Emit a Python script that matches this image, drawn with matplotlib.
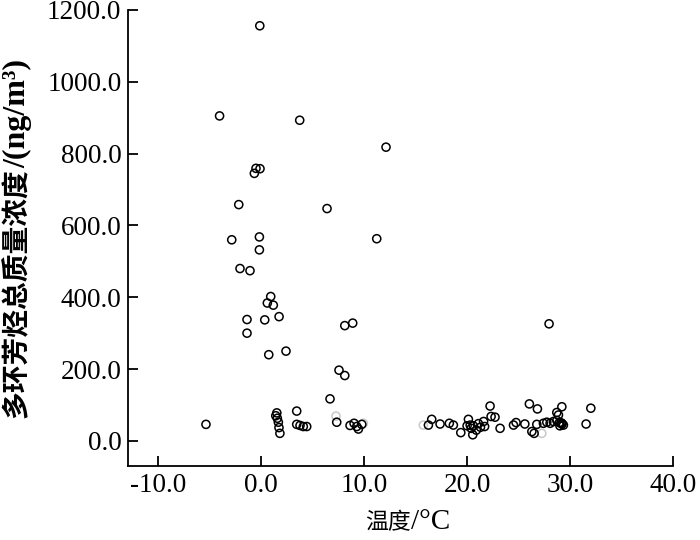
import matplotlib
matplotlib.use("Agg")
import matplotlib.pyplot as plt

# Temperature (°C) and total PAH concentration (ng/m3)
temp = [
    -0.1, -4.0, 3.77, 12.14, -0.47, -0.08, -0.63,
    -2.14, 6.42, -2.82, -0.14, -0.14, 11.24, -2.02, -1.05,
    0.96, 0.63, 1.21, -1.34, 0.38, 1.77, -1.34, 8.14, 8.91,
    0.77, 2.44, 7.58, 8.14, 27.95,
    -5.32, 1.55, 1.45, 1.6, 1.7, 1.76, 1.85,
    3.48, 3.48, 3.8, 4.12, 4.45, 6.71, 7.36,
    8.65, 9.04, 9.3, 9.46, 9.79,
    16.25, 16.57, 17.38, 18.28, 18.67, 19.39, 20.13,
    20.0, 20.3, 20.6, 20.55, 20.9, 21.1, 21.6, 21.7, 20.4, 21.3,
    22.23, 22.33, 22.71, 23.2, 24.5, 24.75,
    25.6, 26.04, 26.82, 26.28, 26.5, 26.76,
    27.4, 27.73, 28.05, 28.37, 28.7, 28.95, 29.19, 29.34,
    28.7, 28.86, 29.19, 29.0, 29.2, 29.1,
    31.54, 32.0,
]
conc = [
    1156, 905, 893, 818, 759, 758, 745,
    658, 647, 560, 568, 532, 563, 480, 474,
    402, 384, 378, 338, 337, 346, 300, 321, 328,
    240, 250, 197, 182, 326,
    46, 78, 70, 63, 52, 37, 21,
    83, 46, 43, 40, 40, 117, 52,
    43, 49, 40, 33, 46,
    44, 60, 47, 49, 44, 23, 60,
    42, 44, 42, 17, 30, 48, 54, 40, 35, 38,
    97, 68, 66, 35, 44, 51,
    47, 103, 89, 26, 21, 46,
    49, 52, 49, 54, 57, 51, 49, 44,
    79, 72, 95, 42, 47, 50,
    47, 91,
]
# faint (grey) points
temp_faint = [7.29, 9.94, 15.76, 27.25]
conc_faint = [69, 49, 44, 21]

xticks = [-10, 0, 10, 20, 30, 40]
yticks = [0, 200, 400, 600, 800, 1000, 1200]

xlabel_cn, xlabel_unit = '温度', '/°C'
ylabel_cn, ylabel_unit = '多环芳烃总质量浓度', '/(ng/m³)'

serif = ['Liberation Serif', 'DejaVu Serif']
cjk = ['Noto Sans CJK SC', 'DejaVu Sans']
plt.rcParams['font.family'] = serif

W, H = 700, 540
fig = plt.figure(figsize=(7, 5.4), dpi=100)
ax = fig.add_axes([0.1833, 0.137, 0.9619 - 0.1833, 0.9815 - 0.137])

ax.scatter(temp_faint, conc_faint, s=34, facecolors='none',
           edgecolors='#c8c8c8', linewidths=1.1, zorder=2)
ax.scatter(temp, conc, s=34, facecolors='none', edgecolors='black',
           linewidths=1.1, zorder=3)

ax.set_xlim(-12.85, 40)
ax.set_ylim(-70, 1200)
ax.set_xticks(xticks)
ax.set_xticklabels([f"{v:.1f}" for v in xticks])
ax.set_yticks(yticks)
ax.set_yticklabels([f"{v:.1f}" for v in yticks])

for s in ['top', 'right']:
    ax.spines[s].set_visible(False)
for s in ['left', 'bottom']:
    ax.spines[s].set_linewidth(1.3)

ax.tick_params(direction='in', length=7, width=1.3, labelsize=19.5, pad=5)

# x label: Chinese part + unit part, on a shared baseline
renderer = fig.canvas.get_renderer()
t1 = fig.text(365 / W, 1 - 529 / H, xlabel_cn, family=cjk, fontsize=16.5,
              ha='left', va='baseline')
bb = t1.get_window_extent(renderer)
fig.text(bb.x1 / W, 1 - 529 / H, xlabel_unit, family=serif, fontsize=21,
         ha='left', va='baseline')

# y label: rotated, Chinese part + unit part
t3 = fig.text(25 / W, 1 - 418 / H, ylabel_cn, family=cjk, fontsize=20,
              fontweight='bold', rotation=90, rotation_mode='anchor',
              ha='left', va='baseline')
bb3 = t3.get_window_extent(renderer)
fig.text(25 / W, bb3.y1 / H, ylabel_unit, family=serif, fontsize=23,
         fontweight='bold', rotation=90, rotation_mode='anchor',
         ha='left', va='baseline')

fig.savefig('out.png', dpi=100)
